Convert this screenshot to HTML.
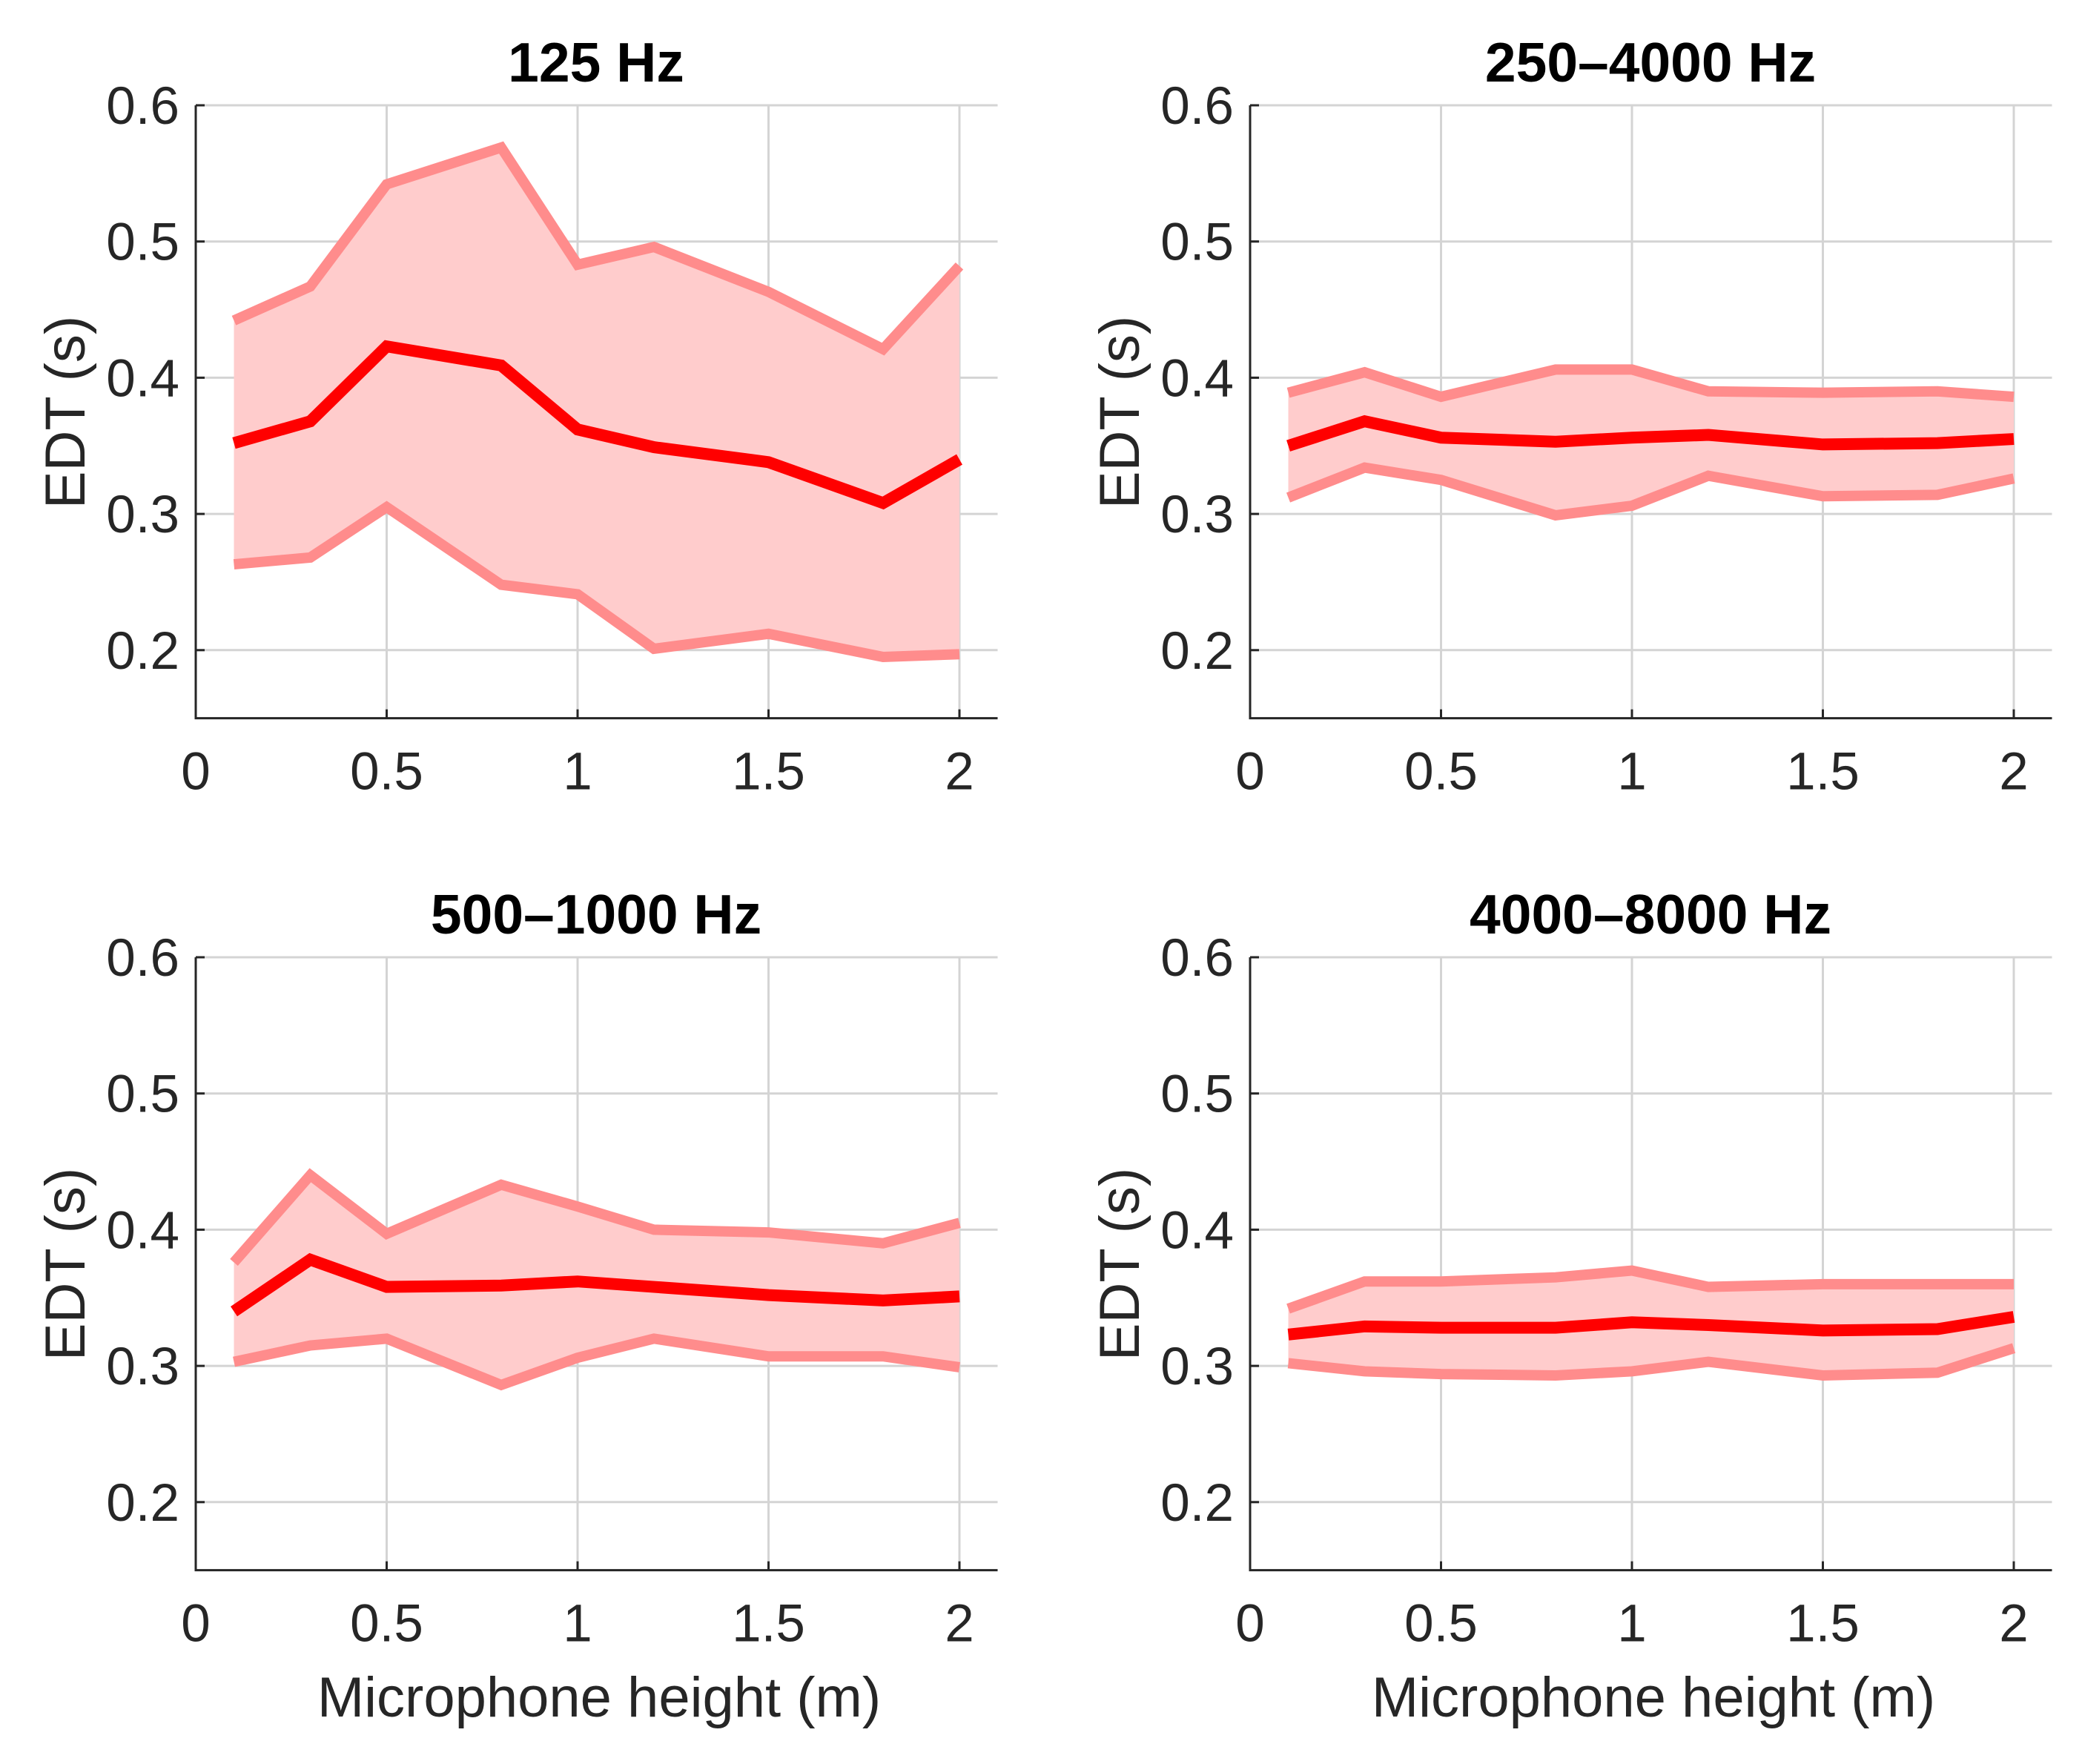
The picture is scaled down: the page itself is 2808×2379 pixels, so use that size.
<!DOCTYPE html>
<html><head><meta charset="utf-8"><style>
html,body{margin:0;padding:0;background:#fff;}
svg{display:block;}
text{font-family:"Liberation Sans",Arial,sans-serif;fill:#262626;}
</style></head><body>
<svg id="fig" width="2808" height="2379" viewBox="0 0 2808 2379" xmlns="http://www.w3.org/2000/svg"></svg>
<script>
const xValues = [0.1,0.3,0.5,0.8,1,1.2,1.5,1.8,2];
const titles = ["125 Hz","250\u20134000 Hz","500\u20131000 Hz","4000\u20138000 Hz"];
const mean125 = [.352,.368,.423,.409,.362,.349,.338,.308,.340];
const upper125 = [.442,.467,.542,.569,.483,.496,.463,.421,.482];
const lower125 = [.263,.268,.305,.248,.241,.201,.212,.195,.197];
const mean250 = [.350,.368,.356,.353,.356,.358,.351,.352,.355];
const upper250 = [.389,.404,.386,.406,.406,.390,.389,.390,.386];
const lower250 = [.312,.334,.325,.299,.306,.328,.313,.314,.326];
const mean500 = [.340,.378,.358,.359,.362,.358,.352,.348,.351];
const upper500 = [.376,.440,.397,.433,.417,.400,.398,.390,.405];
const lower500 = [.303,.315,.320,.286,.306,.320,.307,.307,.299];
const mean4000 = [.323,.329,.328,.328,.332,.330,.326,.327,.336];
const upper4000 = [.342,.362,.362,.365,.370,.358,.360,.360,.360];
const lower4000 = [.302,.296,.294,.293,.296,.303,.293,.295,.313];
const xTicks = [0,0.5,1,1.5,2];
const xTickLabels = ["0","0.5","1","1.5","2"];
const yTicks = [0.2,0.3,0.4,0.5,0.6];
const yTickLabels = ["0.2","0.3","0.4","0.5","0.6"];

const panels = [
  {ox:264, oy:142, mean:mean125, up:upper125, lo:lower125, name:'125hz', xlabel:false},
  {ox:1686, oy:142, mean:mean250, up:upper250, lo:lower250, name:'250-4000hz', xlabel:false},
  {ox:264, oy:1291, mean:mean500, up:upper500, lo:lower500, name:'500-1000hz', xlabel:true},
  {ox:1686, oy:1291, mean:mean4000, up:upper4000, lo:lower4000, name:'4000-8000hz', xlabel:true}
];
const NS = "http://www.w3.org/2000/svg";
const svg = document.getElementById('fig');
function mk(tag, attrs, parent){const e=document.createElementNS(NS,tag);for(const k in attrs)e.setAttribute(k,attrs[k]);parent.appendChild(e);return e;}

panels.forEach((p,i)=>{
  const unit = 515, yUnit = 1837;
  const xs = v => p.ox + v*unit;
  const ys = v => p.oy + (0.6 - v)*yUnit;
  const g = mk('g',{},svg);
  
  
  const xEnd = xs(2.1), yBot = ys(0.15);
  xTicks.forEach(t=>{ if(t>0){const l=mk('line',{x1:xs(t),x2:xs(t),y1:ys(0.6),y2:yBot,stroke:'#d4d4d4','stroke-width':3},g);
    
    }});
  yTicks.forEach(t=>{const l=mk('line',{x1:p.ox,x2:xEnd,y1:ys(t),y2:ys(t),stroke:'#d4d4d4','stroke-width':3},g);
    
    });
  const upPts = xValues.map((x,k)=>xs(x)+','+ys(p.up[k]));
  const loPts = xValues.map((x,k)=>xs(x)+','+ys(p.lo[k])).reverse();
  const band = mk('polygon',{points:upPts.concat(loPts).join(' '),fill:'#ffcccc'},g);
  
  
  const up = mk('polyline',{points:upPts.join(' '),fill:'none',stroke:'#ff8c8c','stroke-width':14},g);
  
  
  const lo = mk('polyline',{points:xValues.map((x,k)=>xs(x)+','+ys(p.lo[k])).join(' '),fill:'none',stroke:'#ff8c8c','stroke-width':14},g);
  
  
  const mn = mk('polyline',{points:xValues.map((x,k)=>xs(x)+','+ys(p.mean[k])).join(' '),fill:'none',stroke:'#ff0000','stroke-width':16},g);
  
  
  const ax = mk('path',{d:`M${p.ox},${ys(0.6)} L${p.ox},${yBot} L${xEnd},${yBot}`,fill:'none',stroke:'#262626','stroke-width':3},g);
  
  
  xTicks.forEach((t,k)=>{
    mk('line',{x1:xs(t),x2:xs(t),y1:yBot,y2:yBot-12,stroke:'#262626','stroke-width':3},g);
    const tx = mk('text',{x:xs(t),y:yBot+96,'text-anchor':'middle','font-size':71},g);
    tx.textContent = xTickLabels[k];
    
    
  });
  yTicks.forEach((t,k)=>{
    mk('line',{x1:p.ox,x2:p.ox+12,y1:ys(t),y2:ys(t),stroke:'#262626','stroke-width':3},g);
    const tx = mk('text',{x:p.ox-22,y:ys(t)+25,'text-anchor':'end','font-size':71},g);
    tx.textContent = yTickLabels[k];
    
    
  });
  const ttl = mk('text',{x:p.ox+540,y:p.oy-32,'text-anchor':'middle','font-size':75,'font-weight':'bold',style:'fill:#000'},g);
  ttl.textContent = titles[i];
  
  
  const yl = mk('text',{x:0,y:0,'text-anchor':'middle','font-size':76,transform:`translate(${p.ox-150},${p.oy+414}) rotate(-90)`},g);
  yl.textContent = 'EDT (s)';
  
  
  if(p.xlabel){
    const xl = mk('text',{x:p.ox+544,y:p.oy+1024,'text-anchor':'middle','font-size':76},g);
    xl.textContent = 'Microphone height (m)';
    
    
  }
});
</script>
</body></html>
